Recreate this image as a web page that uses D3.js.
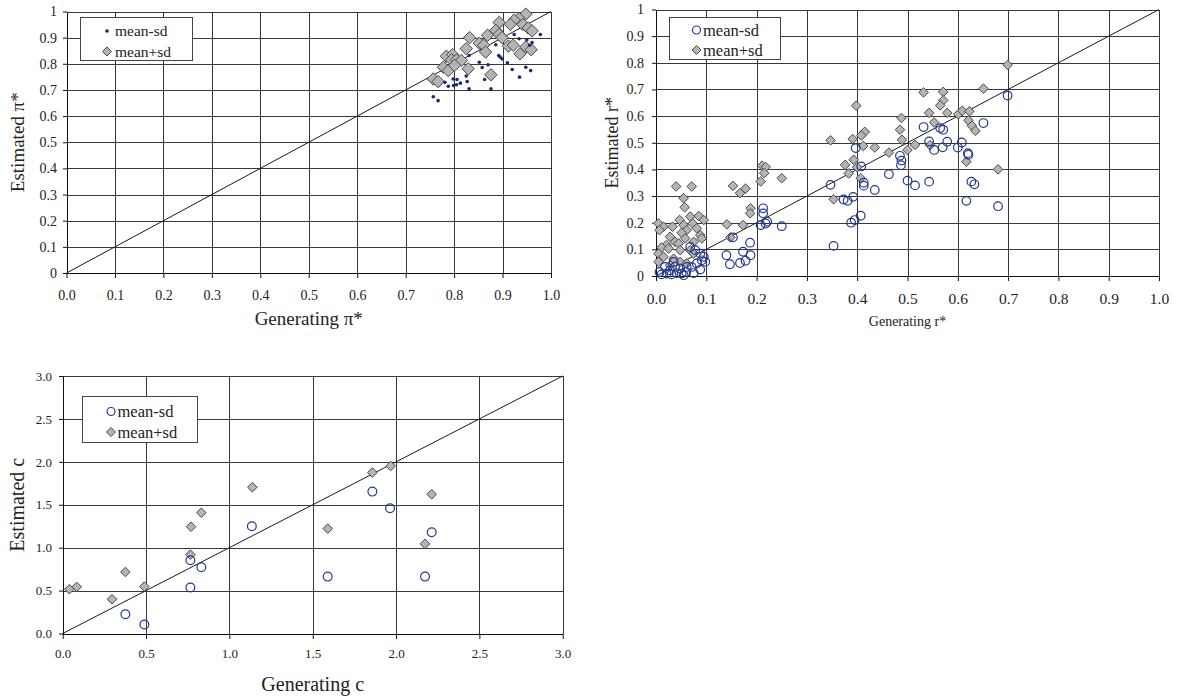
<!DOCTYPE html>
<html>
<head>
<meta charset="utf-8">
<script src="https://cdn.jsdelivr.net/npm/d3@7"></script>
<style>
  html, body { margin: 0; padding: 0; background: #fff; }
  svg { display: block; }
</style>
</head>
<body>
<svg id="chart" width="1177" height="700"></svg>
<script>
// ---------------- DATA ----------------
const seriesNames = ["mean-sd", "mean+sd"];

// Panel A: pi*
const piTicksY = [0, 0.1, 0.2, 0.3, 0.4, 0.5, 0.6, 0.7, 0.8, 0.9, 1];
const piTicksX = [0, 0.1, 0.2, 0.3, 0.4, 0.5, 0.6, 0.7, 0.8, 0.9, 1.0];
const piMinus = [
  [0.978,0.912],[0.924,0.912],[0.934,0.896],[0.950,0.892],[0.961,0.881],[0.956,0.871],
  [0.886,0.873],[0.831,0.832],[0.892,0.832],[0.895,0.826],[0.899,0.819],[0.910,0.804],
  [0.852,0.806],[0.858,0.786],[0.870,0.796],[0.920,0.778],[0.948,0.787],[0.958,0.774],
  [0.825,0.753],[0.827,0.732],[0.863,0.740],[0.935,0.749],[0.798,0.742],[0.806,0.740],
  [0.781,0.729],[0.788,0.714],[0.799,0.717],[0.805,0.720],[0.813,0.726],[0.831,0.704],
  [0.876,0.704],[0.757,0.674],[0.767,0.659]
];
const piPlus = [
  [0.948,0.990],[0.934,0.973],[0.924,0.967],[0.916,0.951],[0.893,0.958],[0.942,0.950],
  [0.953,0.937],[0.961,0.926],[0.886,0.928],[0.893,0.912],[0.899,0.900],[0.832,0.900],
  [0.869,0.909],[0.852,0.879],[0.861,0.871],[0.865,0.845],[0.825,0.858],[0.912,0.868],
  [0.922,0.871],[0.948,0.864],[0.959,0.854],[0.936,0.838],[0.784,0.829],[0.797,0.835],
  [0.795,0.815],[0.805,0.815],[0.815,0.813],[0.778,0.787],[0.788,0.774],[0.801,0.794],
  [0.829,0.781],[0.876,0.758],[0.757,0.742],[0.767,0.732]
];

// Panel B: r*
const rTicksY = [0, 0.1, 0.2, 0.3, 0.4, 0.5, 0.6, 0.7, 0.8, 0.9, 1];
const rTicksX = [0, 0.1, 0.2, 0.3, 0.4, 0.5, 0.6, 0.7, 0.8, 0.9, 1.0];
const rMinus = [
  [0.213,0.254],[0.213,0.235],[0.208,0.191],[0.218,0.197],[0.221,0.204],[0.250,0.187],
  [0.153,0.145],[0.187,0.125],[0.173,0.091],[0.188,0.078],[0.140,0.078],[0.147,0.044],
  [0.167,0.049],[0.178,0.057],[0.347,0.342],[0.353,0.113],
  [0.068,0.109],[0.078,0.097],[0.088,0.084],[0.095,0.072],[0.098,0.053],[0.091,0.059],
  [0.081,0.047],[0.071,0.034],[0.060,0.015],[0.051,0.009],[0.041,0.011],[0.031,0.006],
  [0.021,0.009],[0.011,0.006],[0.007,0.015],[0.061,0.034],[0.048,0.028],[0.028,0.021],
  [0.038,0.034],[0.088,0.024],[0.075,0.011],[0.055,0.003],[0.018,0.034],[0.035,0.053],
  [0.699,0.677],[0.532,0.559],[0.565,0.555],[0.571,0.549],[0.651,0.574],[0.543,0.505],
  [0.553,0.473],[0.570,0.483],[0.579,0.504],[0.608,0.501],[0.600,0.482],[0.620,0.461],
  [0.621,0.455],[0.397,0.480],[0.485,0.451],[0.488,0.433],[0.487,0.416],[0.408,0.411],
  [0.463,0.382],[0.500,0.358],[0.515,0.340],[0.543,0.354],[0.627,0.354],[0.633,0.344],
  [0.413,0.350],[0.413,0.339],[0.435,0.323],[0.617,0.282],[0.680,0.262],[0.373,0.287],
  [0.381,0.282],[0.392,0.297],[0.388,0.200],[0.395,0.210],[0.407,0.226]
];
const rPlus = [
  [0.040,0.336],[0.071,0.336],[0.055,0.292],[0.057,0.258],[0.153,0.338],[0.178,0.328],
  [0.167,0.311],[0.188,0.254],[0.187,0.235],[0.211,0.414],[0.218,0.409],[0.215,0.386],
  [0.208,0.355],[0.250,0.367],[0.347,0.509],[0.353,0.288],[0.141,0.194],[0.173,0.191],
  [0.148,0.145],
  [0.005,0.197],[0.015,0.185],[0.007,0.172],[0.033,0.185],[0.047,0.210],[0.055,0.191],
  [0.068,0.223],[0.085,0.225],[0.095,0.210],[0.073,0.197],[0.081,0.179],[0.088,0.153],
  [0.091,0.141],[0.061,0.172],[0.051,0.162],[0.028,0.147],[0.038,0.128],[0.021,0.116],
  [0.045,0.122],[0.058,0.141],[0.075,0.128],[0.011,0.107],[0.025,0.103],[0.048,0.097],
  [0.068,0.097],[0.075,0.084],[0.005,0.084],[0.015,0.072],[0.035,0.065],[0.005,0.053],
  [0.028,0.040],[0.048,0.053],[0.061,0.047],
  [0.699,0.792],[0.532,0.689],[0.571,0.691],[0.571,0.659],[0.565,0.640],[0.651,0.703],
  [0.398,0.639],[0.543,0.612],[0.579,0.612],[0.601,0.607],[0.609,0.620],[0.623,0.618],
  [0.621,0.584],[0.628,0.564],[0.635,0.545],[0.488,0.593],[0.553,0.576],[0.485,0.549],
  [0.415,0.541],[0.408,0.527],[0.391,0.514],[0.489,0.511],[0.412,0.488],[0.435,0.482],
  [0.515,0.492],[0.500,0.473],[0.545,0.491],[0.463,0.463],[0.393,0.436],[0.376,0.417],
  [0.400,0.408],[0.383,0.385],[0.407,0.367],[0.617,0.429],[0.680,0.400]
];

// Panel C: c
const cTicks = [0, 0.5, 1.0, 1.5, 2.0, 2.5, 3.0];
const cMinus = [
  [0.376,0.225],[0.490,0.105],[0.766,0.853],[0.832,0.771],[0.766,0.535],[1.135,1.250],
  [1.590,0.663],[1.858,1.653],[1.964,1.459],[2.214,1.180],[2.174,0.663]
];
const cPlus = [
  [0.040,0.516],[0.084,0.543],[0.296,0.399],[0.376,0.717],[0.490,0.547],[0.766,0.919],
  [0.770,1.244],[0.832,1.407],[1.138,1.704],[1.590,1.222],[1.858,1.875],[1.968,1.952],
  [2.174,1.044],[2.214,1.622]
];

// ---------------- DRAWING ----------------
const FONT = "'Liberation Serif', 'DejaVu Serif', 'Times New Roman', Times, serif";
const svg = d3.select("#chart");
const NAVY = "#22398c";
const DOT = "#1c2a6b";
const GRID = "#383838";
const DFILL = "#b4b4b4";
const DSTROKE = "#4a4a4a";

function diamondPath(r) {
  return `M0,${-r}L${r},0L0,${r}L${-r},0Z`;
}

function drawMarker(g, type, x, y, size) {
  if (type === "dot") {
    g.append("circle").attr("cx", x).attr("cy", y).attr("r", size)
      .attr("fill", DOT);
  } else if (type === "circle") {
    g.append("circle").attr("cx", x).attr("cy", y).attr("r", size)
      .attr("fill", "none").attr("stroke", NAVY).attr("stroke-width", 1.2);
  } else {
    g.append("path").attr("d", diamondPath(size))
      .attr("transform", `translate(${x},${y})`)
      .attr("fill", DFILL).attr("stroke", DSTROKE).attr("stroke-width", 1);
  }
}

function panel(cfg) {
  const x = d3.scaleLinear().domain(cfg.domain).range([cfg.x0, cfg.x1]);
  const y = d3.scaleLinear().domain(cfg.domain).range([cfg.y0, cfg.y1]);
  const g = svg.append("g");

  // gridlines
  const grid = g.append("g").attr("stroke", GRID).attr("stroke-width", 1).attr("shape-rendering", "crispEdges");
  cfg.yTicks.forEach(v => {
    const yy = Math.round(y(v)) + 0.5;
    grid.append("line").attr("x1", x(cfg.domain[0])).attr("x2", x(cfg.domain[1]) + 0.5)
      .attr("y1", yy).attr("y2", yy);
  });
  cfg.xTicks.forEach(v => {
    const xx = Math.round(x(v)) + 0.5;
    grid.append("line").attr("x1", xx).attr("x2", xx)
      .attr("y1", y(cfg.domain[0])).attr("y2", y(cfg.domain[1]));
  });

  // axes
  const ax = g.append("g").attr("transform", `translate(0,${Math.round(y(cfg.domain[0]))})`)
    .call(d3.axisBottom(x).tickValues(cfg.xTicks).tickFormat(cfg.xFmt)
      .tickSize(5).tickPadding(cfg.xPad).tickSizeOuter(0));
  ax.attr("font-family", FONT).attr("font-size", cfg.xFont);
  ax.selectAll("text").attr("font-family", FONT).attr("fill", "#222");
  ax.selectAll("line, path").attr("stroke", "#111");

  const ay = g.append("g").attr("transform", `translate(${Math.round(x(cfg.domain[0]))},0)`)
    .call(d3.axisLeft(y).tickValues(cfg.yTicks).tickFormat(cfg.yFmt)
      .tickSize(4).tickPadding(cfg.yPad).tickSizeOuter(0));
  ay.attr("font-family", FONT).attr("font-size", cfg.yFont);
  ay.selectAll("text").attr("font-family", FONT).attr("fill", "#222");
  ay.selectAll("line, path").attr("stroke", "#111");

  // diagonal
  g.append("line")
    .attr("x1", x(cfg.domain[0])).attr("y1", y(cfg.domain[0]))
    .attr("x2", x(cfg.domain[1])).attr("y2", y(cfg.domain[1]))
    .attr("stroke", "#1a1a1a").attr("stroke-width", 1);

  // points
  const pts = g.append("g");
  cfg.plus.forEach(d => drawMarker(pts, "diamond", x(d[0]), y(d[1]), cfg.dSize));
  cfg.minus.forEach(d => drawMarker(pts, cfg.minusType, x(d[0]), y(d[1]), cfg.mSize));

  // legend
  const L = cfg.legend;
  g.append("rect").attr("x", L.x + 0.5).attr("y", L.y + 0.5).attr("width", L.w).attr("height", L.h)
    .attr("fill", "#fff").attr("stroke", "#444").attr("stroke-width", 1);
  drawMarker(g, cfg.minusType, L.mx, L.y1, cfg.minusType === "dot" ? 1.8 : 4);
  drawMarker(g, "diamond", L.mx, L.y2, 4.5);
  g.append("text").attr("x", L.tx).attr("y", L.y1).attr("dy", "0.35em")
    .attr("font-family", FONT).attr("font-size", L.font).attr("fill", "#222").text(seriesNames[0]);
  g.append("text").attr("x", L.tx).attr("y", L.y2).attr("dy", "0.35em")
    .attr("font-family", FONT).attr("font-size", L.font).attr("fill", "#222").text(seriesNames[1]);

  // titles
  g.append("text").attr("x", (cfg.x0 + cfg.x1) / 2).attr("y", cfg.xTitleY)
    .attr("text-anchor", "middle").attr("font-family", FONT).attr("font-size", cfg.xTitleFont)
    .attr("fill", "#222").text(cfg.xTitle);
  g.append("text")
    .attr("transform", `translate(${cfg.yTitleX},${(cfg.y0 + cfg.y1) / 2}) rotate(-90)`)
    .attr("text-anchor", "middle").attr("font-family", FONT).attr("font-size", cfg.yTitleFont)
    .attr("fill", "#222").text(cfg.yTitle);
}

const f1 = d3.format(".1f");
const fY = v => (v === 0 ? "0" : v === 1 ? "1" : f1(v));

panel({
  domain: [0, 1], x0: 66.5, x1: 551, y0: 273, y1: 11.5,
  xTicks: piTicksX, yTicks: piTicksY, xFmt: f1, yFmt: fY,
  xFont: 14, yFont: 14, xPad: 12, yPad: 6,
  plus: piPlus, minus: piMinus, minusType: "dot", mSize: 1.8, dSize: 6.2,
  legend: { x: 80, y: 17, w: 112, h: 43, mx: 107, tx: 115, y1: 31, y2: 51.5, font: 15.5 },
  xTitle: "Generating π*", xTitleY: 325, xTitleFont: 19,
  yTitle: "Estimated π*", yTitleX: 24, yTitleFont: 19
});

panel({
  domain: [0, 1], x0: 656, x1: 1159, y0: 276, y1: 9.5,
  xTicks: rTicksX, yTicks: rTicksY, xFmt: f1, yFmt: fY,
  xFont: 15.5, yFont: 14, xPad: 12, yPad: 8,
  plus: rPlus, minus: rMinus, minusType: "circle", mSize: 4.3, dSize: 4.8,
  legend: { x: 669, y: 17, w: 111, h: 42, mx: 696.5, tx: 703, y1: 30, y2: 50, font: 16.5 },
  xTitle: "Generating r*", xTitleY: 326, xTitleFont: 14,
  yTitle: "Estimated r*", yTitleX: 618, yTitleFont: 18
});

panel({
  domain: [0, 3], x0: 62.7, x1: 562.7, y0: 633.5, y1: 376,
  xTicks: cTicks, yTicks: cTicks, xFmt: f1, yFmt: f1,
  xFont: 13, yFont: 13, xPad: 10, yPad: 7,
  plus: cPlus, minus: cMinus, minusType: "circle", mSize: 4.4, dSize: 4.8,
  legend: { x: 82, y: 396, w: 115, h: 46, mx: 111, tx: 117.5, y1: 411.5, y2: 432, font: 16.5 },
  xTitle: "Generating c", xTitleY: 691, xTitleFont: 20,
  yTitle: "Estimated c", yTitleX: 24, yTitleFont: 20
});
</script>
</body>
</html>
